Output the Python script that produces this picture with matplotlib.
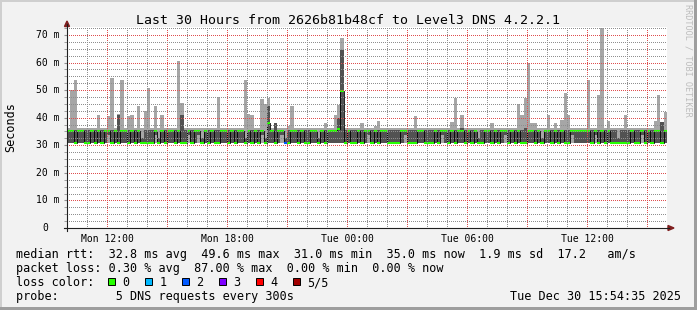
import numpy as np
import matplotlib
matplotlib.use('Agg')
import matplotlib.pyplot as plt
from matplotlib.ticker import MultipleLocator
from matplotlib.patches import Rectangle, Polygon
from matplotlib.lines import Line2D
from matplotlib.transforms import offset_copy

W, H = 697, 310
plt.rcParams['font.family'] = 'DejaVu Sans Mono'

# time axis: hours since Mon 00:00, one value per 10 min from Mon 10:00
t_start = 10.0
step = 1 / 6.

# median rtt per step (ms)
median_ms = [
    35, 35, 31, 35, 35, 31, 31, 35, 31, 35,
    31, 35, 35, 31, 35, 31, 35, 35, 31, 35,
    31, 35, 31, 31, 31, 31, 35, 31, 35, 31,
    35, 35, 31, 35, 31, 31, 35, 31, 35, 35,
    31, 35, 31, 35, 31, 31, 35, 35, 31, 35,
    31, 35, 35, 31, 35, 31, 35, 31, 35, 31,
    38, 35, 31, 35, 35, 31, 31, 35, 35, 31,
    35, 31, 31, 35, 35, 31, 35, 31, 35, 35,
    35, 36, 49.6, 31, 35, 31, 31, 35, 31, 35,
    35, 31, 35, 31, 35, 35, 31, 31, 31, 31,
    35, 35, 31, 31, 31, 35, 35, 31, 31, 31,
    35, 31, 35, 35, 31, 35, 31, 35, 35, 31,
    35, 31, 35, 31, 31, 35, 35, 31, 35, 31,
    35, 35, 31, 35, 31, 35, 31, 31, 35, 35,
    31, 35, 31, 35, 35, 31, 35, 31, 35, 31,
    31, 35, 35, 35, 35, 35, 35, 31, 35, 31,
    35, 31, 35, 31, 31, 31, 31, 31, 31, 35,
    31, 31, 35, 31, 35, 31, 35, 35, 31, 35,
]

# quiet-step smoke levels (ms)
lowest_ms = 30.7
second_ms = 30.9
fourth_ms = 35.6
highest_ms = 36.2

# steps where the slowest ping spikes (light smoke)
spike_step = [1, 2, 9, 12, 13, 15, 16, 18, 19, 21,
              23, 24, 26, 28, 33, 34, 45, 53, 54, 55,
              58, 59, 60, 62, 66, 67, 77, 80, 81, 82,
              88, 92, 93, 104, 115, 116, 118, 127, 135, 136,
              137, 138, 139, 140, 144, 146, 148, 149, 150, 156,
              159, 160, 162, 167, 176, 177, 178, 179]
spike_ms = [50.0, 53.7, 41.0, 40.6, 54.5, 41.5, 53.7, 40.6, 41.0, 44.3,
            42.4, 50.8, 44.3, 41.0, 60.7, 45.3, 47.6, 53.7, 41.5, 41.0,
            46.8, 45.0, 47.3, 38.0, 37.0, 44.3, 38.0, 41.0, 44.6, 68.8,
            38.0, 37.0, 38.8, 40.7, 38.6, 47.2, 41.0, 38.0, 45.0, 41.0,
            47.2, 59.7, 38.0, 38.0, 41.0, 38.0, 39.2, 49.0, 41.0, 53.7,
            48.2, 72.5, 38.8, 41.0, 38.8, 48.2, 38.4, 42.2]

# steps where the 4th ping is raised too (dark smoke)
dark_step = [15, 34, 60, 62, 81, 82, 118, 137, 178]
dark_ms = [41.0, 41.0, 44.3, 38.0, 40.0, 64.6, 36.3, 36.3, 38.4]

# steps where the inner smoke is narrow and light smoke shows
thin_step = [12, 22, 26, 27, 36, 39, 40, 53, 58, 59, 64, 65, 75, 90,
             101, 112, 123, 131, 142, 151, 158, 165, 172]

# steps with lost pings
loss_step = [65]
loss_count = [2]

loss_colors = ['#26ff00', '#00b8ff', '#0059ff', '#7e00ff', '#ff0000', '#a10000']
loss_labels = ['0', '1', '2', '3', '4', '5/5']

xtick_hours = [12, 18, 24, 30, 36]
xtick_labels = ['Mon 12:00', 'Mon 18:00', 'Tue 00:00', 'Tue 06:00', 'Tue 12:00']
ytick_ms = [0, 10, 20, 30, 40, 50, 60, 70]
ytick_labels = ['0', '10 m', '20 m', '30 m', '40 m', '50 m', '60 m', '70 m']

# build per-step arrays
med = np.array(median_ms, dtype=float)
n = len(med)
t = t_start + np.arange(n) * step
p1 = np.full(n, lowest_ms)
p2 = np.full(n, second_ms)
p4 = np.full(n, fourth_ms)
p5 = np.full(n, highest_ms)
p5[spike_step] = spike_ms
p4[dark_step] = dark_ms
for i in thin_step:
    if med[i] > 33:
        p2[i] = 33.6
    else:
        p4[i] = 32.6
p4 = np.maximum(p4, med)
p5 = np.maximum(p5, p4)
cols = [loss_colors[0]] * n
for i, c in zip(loss_step, loss_count):
    cols[i] = loss_colors[c]


def ext(a):
    return np.append(a, a[-1])


te = np.append(t, t[-1] + step)

fig = plt.figure(figsize=(W / 100, H / 100), dpi=100, facecolor='#f2f2f2')
ax = fig.add_axes([67 / W, 82 / H, 600 / W, 201 / H])
ax.set_facecolor('white')
ax.set_xlim(10, 40)
ax.set_ylim(0, 72.9)
for s in ax.spines.values():
    s.set_visible(False)

# smoke
ax.fill_between(te, ext(p1), ext(p5), step='post', color='#a6a6a6', lw=0, zorder=1)
ax.fill_between(te, ext(p2), ext(p4), step='post', color='#525252', lw=0, zorder=1.1)
# median
ax.step(te, ext(med), where='post', color='black', lw=0.6, zorder=2)
ax.hlines(med, t, t + step, colors=cols, lw=1.5, zorder=2.1)

# grid (dotted, drawn over the data like rrdtool does)
ax.xaxis.set_major_locator(MultipleLocator(3))
ax.xaxis.set_minor_locator(MultipleLocator(1))
ax.yaxis.set_major_locator(MultipleLocator(10))
ax.yaxis.set_minor_locator(MultipleLocator(2.5))
ax.set_axisbelow(False)
dots = (0.5, (1, 1))
ax.grid(which='minor', color=(0.56, 0.56, 0.56, 0.27), lw=0.72, linestyle=dots)
ax.grid(which='major', color=(0.87, 0.31, 0.31, 0.42), lw=0.72, linestyle=dots)

# x labels only every 6 hours
lab = {h: l for h, l in zip(xtick_hours, xtick_labels)}
ax.xaxis.set_major_formatter(plt.FuncFormatter(lambda v, p: lab.get(int(round(v)), '')))
ax.tick_params(axis='x', which='both', length=0, labelsize=7, pad=4)
ax.tick_params(axis='y', which='both', length=2, color='#909090', labelleft=False)

ytr = ax.get_yaxis_transform()
for v, l in zip(ytick_ms, ytick_labels):
    dx = -7 if l != '0' else -19
    ax.text(0, v, l, transform=offset_copy(ytr, fig, x=dx, units='dots'),
            ha='right', va='center', fontsize=7)


def fx(x):
    return x / W


def fy(y):
    return 1 - y / H


# axis lines and arrows
axis_c = '#1f1f1f'
arrow_c = '#801f1f'
fig.add_artist(Line2D([fx(67), fx(67)], [fy(231), fy(24)], color=axis_c, lw=0.8))
fig.add_artist(Line2D([fx(64), fx(669)], [fy(228), fy(228)], color=axis_c, lw=0.8))
fig.add_artist(Polygon([(fx(64.5), fy(26.5)), (fx(69.5), fy(26.5)), (fx(67), fy(21))],
                       closed=True, color=arrow_c, transform=fig.transFigure))
fig.add_artist(Polygon([(fx(668), fy(225.5)), (fx(668), fy(230.5)), (fx(674), fy(228))],
                       closed=True, color=arrow_c, transform=fig.transFigure))

# frame shading
fig.add_artist(Rectangle((0, fy(2)), 1, 2 / H, color='#cfcfcf', transform=fig.transFigure, lw=0))
fig.add_artist(Rectangle((0, 0), 2 / W, 1, color='#cfcfcf', transform=fig.transFigure, lw=0))
fig.add_artist(Rectangle((0, 0), 1, 3 / H, color='#9e9e9e', transform=fig.transFigure, lw=0))
fig.add_artist(Rectangle((fx(694), 0), 3 / W, 1, color='#9e9e9e', transform=fig.transFigure, lw=0))

# texts
fig.text(0.5, fy(24), 'Last 30 Hours from 2626b81b48cf to Level3 DNS 4.2.2.1',
         ha='center', va='baseline', fontsize=9.5)
fig.text(fx(11), fy(127.5), 'Seconds', rotation=90, ha='center', va='center', fontsize=8.5)
fig.text(fx(688), fy(4), 'RRDTOOL / TOBI OETIKER', rotation=270, ha='center', va='top',
         fontsize=6.1, color='#bdbdbd')

fs = 8.5
fig.text(fx(16), fy(258), 'median rtt:  32.8 ms avg  49.6 ms max  31.0 ms min  35.0 ms now  1.9 ms sd  17.2   am/s',
         ha='left', va='baseline', fontsize=fs)
fig.text(fx(16), fy(272), 'packet loss: 0.30 % avg  87.00 % max  0.00 % min  0.00 % now',
         ha='left', va='baseline', fontsize=fs)
fig.text(fx(16), fy(286), 'loss color:', ha='left', va='baseline', fontsize=fs)
for k, (c, l) in enumerate(zip(loss_colors, loss_labels)):
    bx = 108 + k * 36.9
    fig.add_artist(Rectangle((fx(bx), fy(284.5)), 7 / W, 7 / H, facecolor=c, edgecolor='black',
                             lw=0.7, transform=fig.transFigure))
    fig.text(fx(bx + 14.7), fy(286), l, ha='left', va='baseline', fontsize=fs)
fig.text(fx(16), fy(300), 'probe:        5 DNS requests every 300s', ha='left', va='baseline', fontsize=fs)
fig.text(fx(681), fy(300), 'Tue Dec 30 15:54:35 2025', ha='right', va='baseline', fontsize=fs)

fig.savefig('out.png', dpi=100, facecolor=fig.get_facecolor())
